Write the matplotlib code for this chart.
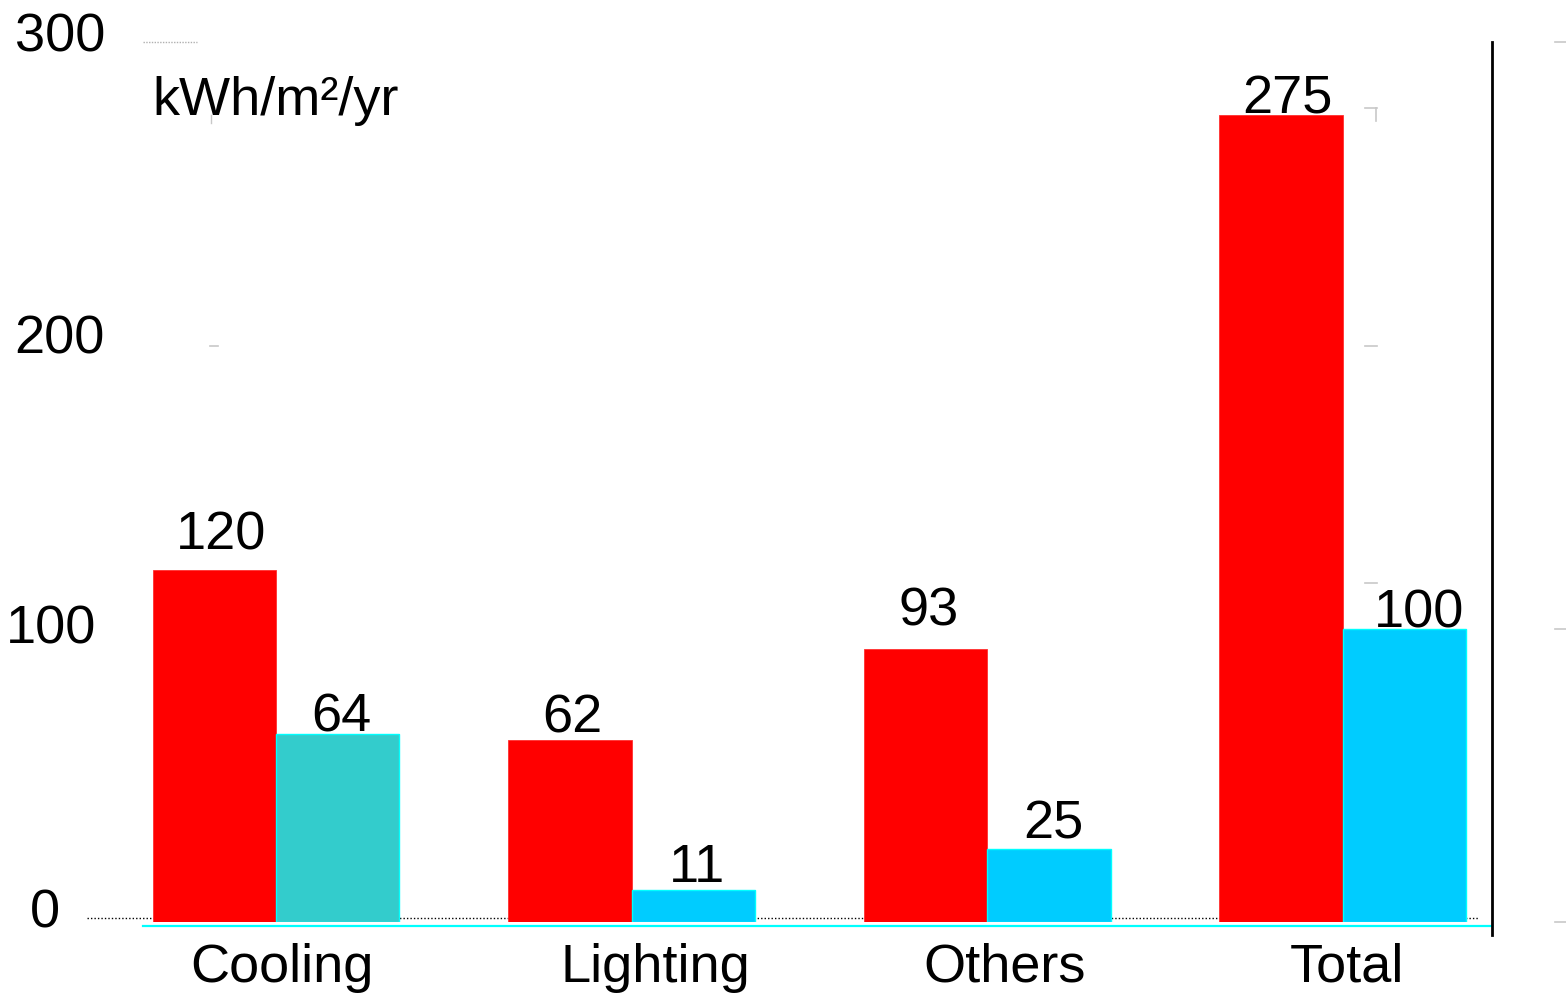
import matplotlib
matplotlib.use("Agg")
import matplotlib.pyplot as plt
import matplotlib.transforms as mtransforms

plt.rcParams['font.family'] = ['Liberation Sans', 'DejaVu Sans']

# Annual energy use per floor area, before and after
categories = ["Cooling", "Lighting", "Others", "Total"]
before = [120, 62, 93, 275]
after = [64, 11, 25, 100]
after_colors = ["#33CCCC", "#00CCFF", "#00CCFF", "#00CCFF"]
y_ticks = [300, 200, 100, 0]
unit_label = "kWh/m²/yr"

# label placement tweaks (pixel offsets)
before_label_offsets = [(7, 20), (2, 8), (3, 24), (6, 2)]
after_label_offsets = [(4, 3), (4, 8), (4, 10), (15, 1)]
category_offsets = [6, 24, 17, 4]
ytick_offsets = [(18, -10), (18, -18), (9, -14.5), (-27, -6)]

FS = 39

W, H = 1566, 994
fig = plt.figure(figsize=(W / 100, H / 100), dpi=100)
ax_l, ax_r, ax_b, ax_t = 87, 1492, 922, 42
ax = fig.add_axes([ax_l / W, 1 - ax_b / H, (ax_r - ax_l) / W, (ax_b - ax_t) / H])

group_px, step_px = 276, 355.6
ax.set_xlim((ax_l - group_px) / step_px, (ax_r - group_px) / step_px)
ax.set_ylim(0, 300)
ax.set_axis_off()

width = 0.347
xs = list(range(len(categories)))
ax.bar([x - width / 2 for x in xs], before, width, color="#FF0000",
       edgecolor="#FF3030", linewidth=0.6, zorder=3)
ax.bar([x + width / 2 for x in xs], after, width, color=after_colors,
       edgecolor="#00FFFF", linewidth=1.0, zorder=3)

# value labels
for x, v, (dx, dy) in zip(xs, before, before_label_offsets):
    ax.annotate(str(v), xy=(x - width / 2, v), xytext=(dx, dy),
                textcoords="offset pixels", ha="center", va="baseline",
                fontsize=FS, zorder=5)
for x, v, (dx, dy) in zip(xs, after, after_label_offsets):
    ax.annotate(str(v), xy=(x + width / 2, v), xytext=(dx, dy),
                textcoords="offset pixels", ha="center", va="baseline",
                fontsize=FS, zorder=5)

# category labels
for x, name, dx in zip(xs, categories, category_offsets):
    ax.annotate(name, xy=(x, 0), xytext=(dx, -60), textcoords="offset pixels",
                ha="center", va="baseline", fontsize=FS, annotation_clip=False)

# y tick labels
blend = mtransforms.blended_transform_factory(ax.transAxes, ax.transData)
for v, (dx, dy) in zip(y_ticks, ytick_offsets):
    ax.annotate(str(v), xy=(0, v), xycoords=blend, xytext=(dx, dy),
                textcoords="offset pixels", ha="right", va="baseline",
                fontsize=FS, annotation_clip=False)

ax.annotate(unit_label, xy=(0, 300), xycoords=blend, xytext=(65, -73),
            textcoords="offset pixels", ha="left", va="baseline", fontsize=FS)

# baseline guides
ax.plot([0, 0.990], [1.36, 1.36], transform=blend, color="black",
        linestyle=(0, (1, 1.5)), linewidth=1.0, zorder=1, clip_on=False)
ax.plot([0.0399, 1.0], [-1.36, -1.36], transform=blend, color="#00FFFF",
        linewidth=1.6, zorder=4, clip_on=False)
ax.plot([0.0399, 0.0783], [300, 300], transform=blend, color="#B0B0B0",
        linestyle=(0, (1, 1)), linewidth=1.0, clip_on=False)

# right edge rule
ax.plot([1, 1], [-4.43, 300], transform=blend, color="black",
        linewidth=2.0, clip_on=False, zorder=4)

# faint gridline stubs
stub = "#C8C8C8"
for v in [300, 100, 0]:
    ax.plot([1.0448, 1.0527], [v, v], transform=blend, color=stub,
            linewidth=1.2, clip_on=False)
for v in [277.4, 196.3, 115.5]:
    ax.plot([3.062, 3.096], [v, v], color=stub, linewidth=1.2, clip_on=False, zorder=2)
ax.plot([3.093, 3.093], [277.4, 273.0], color=stub, linewidth=1.2, clip_on=False, zorder=2)
ax.plot([-0.186, -0.163], [196.3, 196.3], color=stub, linewidth=1.2, clip_on=False, zorder=2)
ax.plot([-0.183, -0.183], [275.0, 272.3], color=stub, linewidth=1.0, clip_on=False, zorder=2)

fig.savefig("out.png", dpi=100)
